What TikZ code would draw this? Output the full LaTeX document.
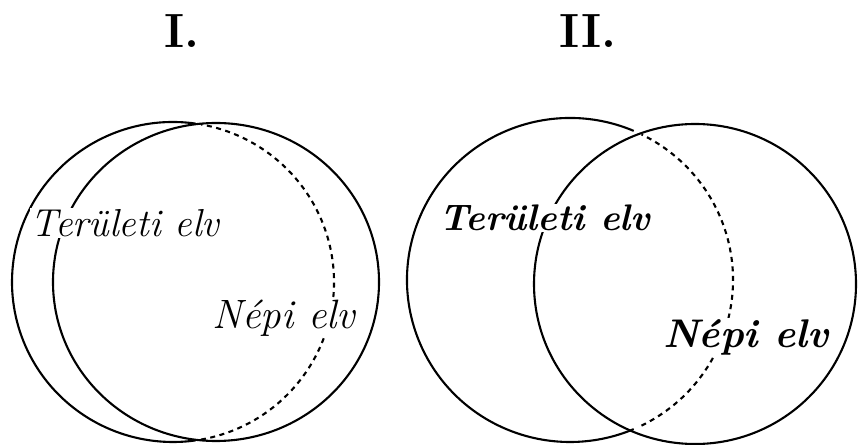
\documentclass[tikz,border=0pt]{standalone}
\usepackage{tikz}
\usetikzlibrary{positioning}

\begin{document}
\begin{tikzpicture}[x=1pt,y=1pt,
    circ/.style={line width=2.1pt},
    hidden/.style={line width=2.1pt, dash pattern=on 5pt off 4.5pt},
    elvtext/.style={fill=white, inner sep=1pt},
    title/.style={font=\fontsize{48}{48}\selectfont\bfseries}]
  \useasboundingbox (0,0) rectangle (858,444);

  % I.
  \node[title] (t1) at (182,413) {I.};
  \coordinate (IA) at (173,162);
  \coordinate (IB) at (216,162);
  \draw[circ] (IB) ellipse [x radius=163, y radius=159];
  \draw[circ] (IA) ++(82:161 and 160) arc [start angle=82, end angle=278, x radius=161, y radius=160];
  \draw[hidden] (IA) ++(-80:161 and 160) arc [start angle=-80, end angle=80, x radius=161, y radius=160];
  \node[elvtext, font=\fontsize{39}{39}\selectfont\itshape] (ter1) at (125,221) {Területi elv};
  \node[elvtext, font=\fontsize{41}{41}\selectfont\itshape] (nep1) at (284,126) {Népi elv};

  % II.
  \node[title] (t2) at (588,413) {II.};
  \coordinate (IIA) at (570,164);
  \coordinate (IIB) at (695,160);
  \draw[circ] (IIB) ellipse [x radius=161, y radius=160];
  \draw[circ] (IIA) ++(67:163 and 162) arc [start angle=67, end angle=293, x radius=163, y radius=162];
  \draw[hidden] (IIA) ++(-64:163 and 162) arc [start angle=-64, end angle=64, x radius=163, y radius=162];
  \node[elvtext, font=\fontsize{37}{37}\selectfont\bfseries\itshape] (ter2) at (545,226) {Területi elv};
  \node[elvtext, font=\fontsize{40}{40}\selectfont\bfseries\itshape] (nep2) at (746,107) {Népi elv};
\end{tikzpicture}
\end{document}
